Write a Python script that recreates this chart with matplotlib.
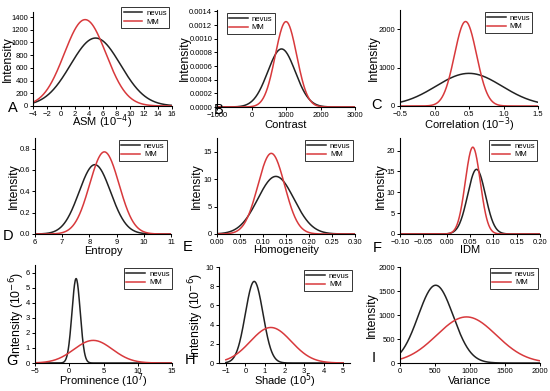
import numpy as np
import matplotlib
matplotlib.use("Agg")
import matplotlib.pyplot as plt

plt.rcParams["font.family"] = ["Liberation Sans", "DejaVu Sans"]

# fitted normal curves: peak height, mean, sd for each feature
panel_letters = ["A", "B", "C", "D", "E", "F", "G", "H", "I"]
x_labels = ["ASM (10$^{-4}$)", "Contrast", "Correlation (10$^{-3}$)",
            "Entropy", "Homogeneity", "IDM",
            "Prominence (10$^{7}$)", "Shade (10$^{5}$)", "Variance"]
y_labels = ["Intensity"] * 6 + ["Intensity (10$^{-6}$)"] * 2 + ["Intensity"]

nevus_peak = [1070, 0.00085, 850, 0.65, 10.5, 15.5, 5.6, 8.5, 1620]
nevus_mean = [5.0, 870, 0.50, 8.2, 0.128, 0.064, 1.0, 0.45, 510]
nevus_sd = [3.6, 400, 0.48, 0.58, 0.0395, 0.019, 0.6, 0.45, 250]

mm_peak = [1360, 0.00125, 2200, 0.77, 14.7, 20.8, 1.5, 3.7, 960]
mm_mean = [3.5, 1000, 0.45, 8.55, 0.118, 0.056, 3.5, 1.3, 950]
mm_sd = [3.0, 310, 0.16, 0.54, 0.029, 0.016, 2.8, 1.05, 425]

x_ranges = [(-4, 16), (-1000, 3000), (-0.5, 1.5), (6, 11), (0, 0.30),
            (-0.10, 0.20), (-5, 15), (-1, 5), (0, 2000)]
x_ticks = [np.arange(-4, 17, 2), np.arange(-1000, 3001, 1000),
           np.arange(-0.5, 1.51, 0.5), np.arange(6, 12, 1),
           np.arange(0, 0.301, 0.05), np.arange(-0.10, 0.201, 0.05),
           np.arange(-5, 16, 5), np.arange(-1, 6, 1), np.arange(0, 2001, 500)]
y_ticks = [np.arange(0, 1401, 200), np.arange(0, 0.00141, 0.0002),
           [0, 1000, 2000], np.arange(0, 0.81, 0.2), [0, 5, 10, 15],
           [0, 5, 10, 15, 20], np.arange(0, 7, 1), np.arange(0, 11, 2),
           np.arange(0, 2001, 500)]
y_tops = [1480, 0.00142, 2500, 0.9, 17.5, 23, 6.5, 10, 2000]

x_fmt = ["{:.0f}", "{:.0f}", "{:.1f}", "{:.0f}", "{:.2f}", "{:.2f}",
         "{:.0f}", "{:.0f}", "{:.0f}"]
y_fmt = ["{:.0f}", "{:.4f}", "{:.0f}", "{:.1f}", "{:.0f}", "{:.0f}",
         "{:.0f}", "{:.0f}", "{:.0f}"]

W, H = 550, 391
# axes boxes in pixels (left, right, top, bottom)
boxes = [(33, 172, 12, 106), (217, 355, 10, 107), (400, 538, 10, 106),
         (35, 171, 138, 234), (217, 355, 138, 234), (400, 540, 138, 234),
         (35, 172, 265, 363), (219, 350, 267, 363), (400, 540, 267, 363)]
xlim_pad = [None] * 7 + [(-1.35, 5.35)] + [None]
legend_pos = [("upper right", (0.98, 1.05)), ("upper left", (0.07, 0.97)),
              ("upper right", (0.96, 0.98)), ("upper right", (0.97, 0.98)),
              ("upper right", (0.985, 0.98)), ("upper right", (0.98, 0.98)),
              ("upper right", (1.0, 0.97)), ("upper right", (1.015, 0.97)),
              ("upper right", (0.985, 0.99))]
letter_pos = [(13, 108), (219, 110), (377, 105), (8, 236), (188, 247),
              (377, 248), (12, 361), (190, 360), (374, 358)]
# label placement in pixels: y-label centre x, x-label baseline y
ylabel_px = [8, 185, 374, 14, 197, 381, 17, 196, 372]
xlabel_px = [126, 128, 129, 254, 253, 253, 385, 385, 384]

RED = "#d8393c"
BLACK = "#222222"

fig = plt.figure(figsize=(W / 100, H / 100), dpi=100, facecolor="white")

for i in range(9):
    l, r, t, b = boxes[i]
    ax = fig.add_axes([l / W, 1 - b / H, (r - l) / W, (b - t) / H])
    x0, x1 = x_ranges[i]
    x = np.linspace(x0, x1, 400)
    nev = nevus_peak[i] * np.exp(-(x - nevus_mean[i]) ** 2 / (2 * nevus_sd[i] ** 2))
    mm = mm_peak[i] * np.exp(-(x - mm_mean[i]) ** 2 / (2 * mm_sd[i] ** 2))
    ax.plot(x, nev, color=BLACK, lw=1.1, label="nevus")
    ax.plot(x, mm, color=RED, lw=1.1, label="MM")

    if xlim_pad[i]:
        ax.set_xlim(*xlim_pad[i])
    else:
        ax.set_xlim(x0, x1)
    ax.set_ylim(0, y_tops[i])
    ax.set_xticks(x_ticks[i])
    ax.set_xticklabels([x_fmt[i].format(v).replace("-", "\u2212") for v in x_ticks[i]])
    ax.set_yticks(y_ticks[i])
    ax.set_yticklabels([y_fmt[i].format(v) for v in y_ticks[i]])
    ax.tick_params(direction="out", length=2, width=0.7, labelsize=5.5, pad=1.5)
    for s in ["top", "right"]:
        ax.spines[s].set_visible(False)
    for s in ["left", "bottom"]:
        ax.spines[s].set_linewidth(0.8)

    ax.set_xlabel(x_labels[i], fontsize=8)
    ax.xaxis.set_label_coords(0.5, (b - xlabel_px[i]) / (b - t))
    ax.xaxis.label.set_verticalalignment("baseline")
    ax.set_ylabel(y_labels[i], fontsize=8.8)
    ax.yaxis.set_label_coords((ylabel_px[i] - l) / (r - l), 0.5)
    ax.yaxis.label.set_verticalalignment("center")

    loc, anchor = legend_pos[i]
    leg = ax.legend(loc=loc, bbox_to_anchor=anchor, fontsize=5.6, frameon=True,
                    fancybox=False, edgecolor="black", handlelength=2.4,
                    handletextpad=0.5, borderpad=0.3, labelspacing=0.15,
                    borderaxespad=0)
    leg.get_frame().set_linewidth(0.7)

    lx, ly = letter_pos[i]
    fig.text(lx / W, 1 - ly / H, panel_letters[i], fontsize=10.5,
             ha="center", va="center")

fig.savefig("out.png", dpi=100, facecolor="white")
